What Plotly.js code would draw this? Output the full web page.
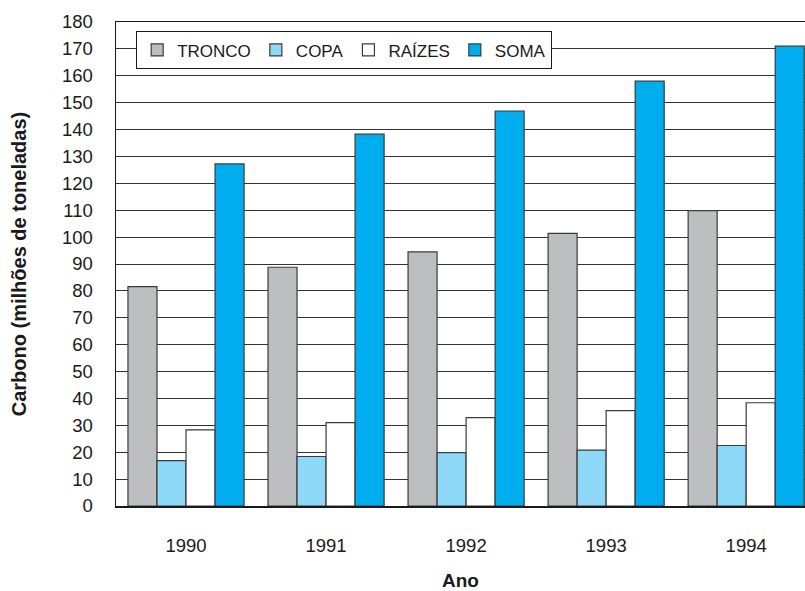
<!DOCTYPE html>
<html><head><meta charset="utf-8">
<script src="https://cdn.plot.ly/plotly-3.0.1.min.js"></script>
<style>html,body{margin:0;padding:0;background:#fff}</style>
</head><body>
<div id="chart" style="width:805px;height:591px"></div>
<script>
const years = ['1990', '1991', '1992', '1993', '1994'];
const tronco = [81.6, 88.8, 94.5, 101.4, 109.8];
const copa = [16.9, 18.4, 19.8, 20.8, 22.5];
const raizes = [28.3, 31.0, 32.9, 35.5, 38.4];
const soma = [127.2, 138.3, 146.9, 158.0, 171.0];
const yTicks = [0,10,20,30,40,50,60,70,80,90,100,110,120,130,140,150,160,170,180];

const line = {color: '#3a3a3a', width: 1.2};
const traces = [
  {name: 'TRONCO', y: tronco, color: '#bcbec0'},
  {name: 'COPA', y: copa, color: '#8ed8f8'},
  {name: 'RAÍZES', y: raizes, color: '#ffffff'},
  {name: 'SOMA', y: soma, color: '#00aeef'}
].map(s => ({type: 'bar', name: s.name, x: years, y: s.y,
  marker: {color: s.color, line: line}, hoverinfo: 'skip'}));

const layout = {
  width: 805, height: 591,
  margin: {l: 116, r: 0, t: 22, b: 85},
  paper_bgcolor: '#fff', plot_bgcolor: '#fff',
  font: {family: 'Liberation Sans, Arial, sans-serif', size: 18.5, color: '#1a1a1a'},
  barmode: 'group', bargap: 0.171, bargroupgap: 0,
  showlegend: true,
  legend: {orientation: 'h', x: 0.029, y: 0.981, xanchor: 'left', yanchor: 'top',
    bgcolor: '#fff', bordercolor: '#1a1a1a', borderwidth: 1.2,
    font: {size: 17, color: '#1a1a1a'}, traceorder: 'normal'},
  xaxis: {type: 'category', range: [-0.5, 4.42], showline: true, linecolor: '#1a1a1a', linewidth: 1.5,
    mirror: true, showgrid: false, ticks: '', ticklabelstandoff: 22, fixedrange: true,
    title: {text: '<b>Ano</b>', font: {size: 19}, standoff: 31}},
  yaxis: {range: [0, 180], tickvals: yTicks, showline: true, linecolor: '#1a1a1a', linewidth: 1.5,
    mirror: true, showgrid: true, gridcolor: '#333333', gridwidth: 1, zeroline: false,
    ticks: '', ticklabelstandoff: 18, fixedrange: true,
    title: {text: '<b>Carbono (milhões de toneladas)</b>', font: {size: 20}, standoff: 30}}
};
Plotly.newPlot('chart', traces, layout, {staticPlot: true});
</script>
</body></html>
